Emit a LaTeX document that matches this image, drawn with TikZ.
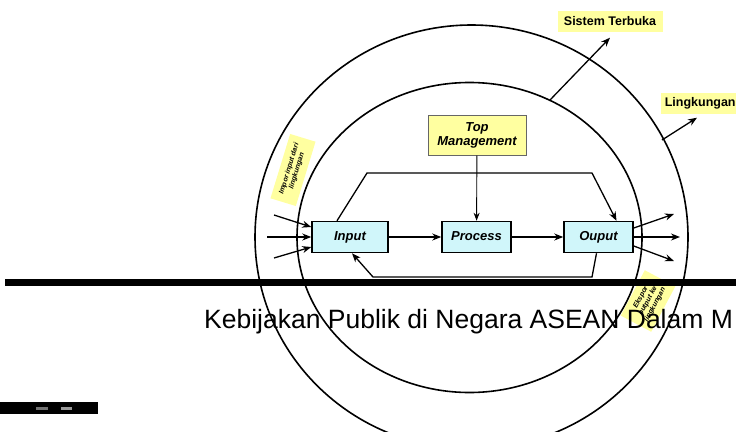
\documentclass[tikz,border=0pt]{standalone}
\usepackage{fontspec}
\setsansfont{Liberation Sans}
\usetikzlibrary{arrows,arrows.meta,positioning,calc}

\definecolor{boxcyan}{RGB}{208,246,250}
\definecolor{notey}{RGB}{255,255,160}

\begin{document}
\begin{tikzpicture}[
    x=1pt, y=-1pt,
    ring/.style={draw, line width=1.6pt},
    stage/.style={rectangle, draw, line width=1.5pt, fill=boxcyan, minimum width=69pt, minimum height=31pt, text height=9.5pt, text depth=3pt, font=\sffamily\fontsize{13}{15}\selectfont\bfseries\itshape},
    mgmt/.style={rectangle, draw=black!60, line width=1pt, fill=notey, minimum width=98pt, minimum height=40pt, align=center, font=\sffamily\fontsize{13}{14}\selectfont\bfseries\itshape},
    tag/.style={rectangle, fill=notey, inner sep=3pt, minimum height=21pt, font=\sffamily\fontsize{12.5}{14}\selectfont\bfseries},
    note/.style={rectangle, fill=notey, inner xsep=7pt, inner ysep=6pt, align=center, font=\sffamily\fontsize{7}{8}\selectfont\bfseries\itshape},
    arrow/.style={-{Stealth[length=9pt,width=7pt]}, line width=1.3pt},
    thinarrow/.style={-{Stealth[length=8pt,width=6pt]}, line width=0.9pt}
]
\useasboundingbox (0,0) rectangle (736,431);

% rings
\draw[ring] (471.5,237) ellipse [x radius=216.5, y radius=212];
\draw[ring] (469.5,237.5) ellipse [x radius=172.5, y radius=155];

% notes along the rings
\node[note, rotate=73] (impor) at (293,170) {Impor input dari\\lingkungan};
\node[note, rotate=62] (ekspor) at (648,301) {Ekspor\\output ke\\lingkungan};

% stages
\node[stage, minimum width=76pt] (input) at (350,237) {Input};
\node[stage] (process) at (476.5,237) {Process};
\node[stage] (output) at (598.5,237) {Ouput};
\node[mgmt] (topmgmt) at (477,135) {Top\\Management};

% labels outside
\node[tag, minimum width=105pt] (sistem) at (610,21) {Sistem Terbuka};
\node[tag, minimum width=78pt, anchor=west] (lingk) at (661,103) {Lingkungan};

% main flow
\draw[arrow] (input) -- (process);
\draw[arrow] (process) -- (output);
\draw[thinarrow] (topmgmt) -- (process);

% bypass over the top
\coordinate (upL) at (367,173);
\coordinate (upR) at (592,173);
\draw[arrow] ([xshift=-13pt]input.north) -- (upL) -- (upR) -- ([xshift=18pt]output.north);

% feedback below
\coordinate (lowR) at (592,277);
\coordinate (lowL) at (373,277);
\draw[arrow] ([xshift=-2pt]output.south) -- (lowR) -- (lowL) -- ([xshift=2pt]input.south);

% inputs from outside
\coordinate (inA) at (274,215);
\coordinate (inB) at (267,237);
\coordinate (inC) at (274,258);
\draw[arrow] (inA) -- ([yshift=10pt]input.west);
\draw[arrow] (inB) -- (input.west);
\draw[arrow] (inC) -- ([yshift=-10pt]input.west);

% outputs to outside
\coordinate (outA) at (674,214);
\coordinate (outB) at (680,237);
\coordinate (outC) at (674,261);
\draw[arrow] ([yshift=9pt]output.east) -- (outA);
\draw[arrow] (output.east) -- (outB);
\draw[arrow] ([yshift=-9pt]output.east) -- (outC);

% pointers to the labels
\coordinate (sisFoot) at (550,100);
\coordinate (linFoot) at (662,140);
\draw[arrow] (sisFoot) -- ([yshift=-6pt]sistem.south);
\draw[arrow] (linFoot) -- ($(lingk.south west)+(36,4)$);

% slide overlay
\fill (5,279) rectangle (736,286);
\fill (0,402) rectangle (98,414);
\fill[black!55] (36,407) rectangle (48,410);
\fill[black!40] (61,407) rectangle (72,410);
\node[anchor=base west, inner sep=0pt, font=\sffamily\fontsize{26.5}{30}\selectfont] (caption) at (204,328) {Kebijakan Publik di Negara ASEAN Dalam M};

\end{tikzpicture}
\end{document}
